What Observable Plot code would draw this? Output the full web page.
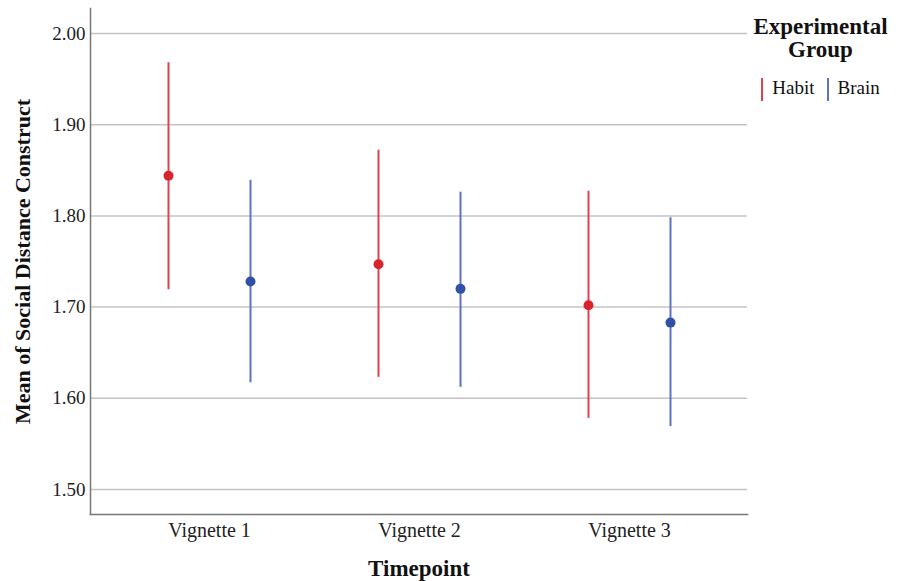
<!DOCTYPE html>
<html>
<head>
<meta charset="utf-8">
<script src="https://cdn.jsdelivr.net/npm/d3@7"></script>
<script src="https://cdn.jsdelivr.net/npm/@observablehq/plot@0.6"></script>
<style>
  body { margin: 0; background: #fff; }
  #wrap { position: relative; width: 901px; height: 581px; font-family: "Liberation Serif", "Times New Roman", serif; }
  #legend { position: absolute; left: 740px; top: 15px; width: 161px; text-align: center; color: #111; }
  #legend .title { font-weight: bold; font-size: 23px; line-height: 23px; }
  #legend .items { display: flex; justify-content: center; gap: 12px; margin-top: 16px; font-size: 19px; align-items: center; }
  #legend .sw { display: inline-block; width: 2px; height: 23px; margin-right: 9px; vertical-align: middle; }
</style>
</head>
<body>
<div id="wrap">
  <div id="chart"></div>
  <div id="legend">
    <div class="title">Experimental<br>Group</div>
    <div class="items">
      <span><span class="sw" style="background:#e0404f"></span>Habit</span>
      <span><span class="sw" style="background:#5a73c4"></span>Brain</span>
    </div>
  </div>
</div>
<script>
const timepoints = ["Vignette 1", "Vignette 2", "Vignette 3"];
const groups = ["Habit", "Brain"];
const habitMean = [1.844, 1.747, 1.702];
const habitLow  = [1.719, 1.623, 1.578];
const habitHigh = [1.968, 1.872, 1.827];
const brainMean = [1.728, 1.720, 1.683];
const brainLow  = [1.617, 1.612, 1.569];
const brainHigh = [1.839, 1.826, 1.798];
const yTicks = [1.5, 1.6, 1.7, 1.8, 1.9, 2.0];

const habit = timepoints.map((t, i) => ({t, group: "Habit", mean: habitMean[i], lo: habitLow[i], hi: habitHigh[i]}));
const brain = timepoints.map((t, i) => ({t, group: "Brain", mean: brainMean[i], lo: brainLow[i], hi: brainHigh[i]}));

const colors = {Habit: {line: "#e0404f", dot: "#d9242e"}, Brain: {line: "#5a73c4", dot: "#3151a8"}};
const off = 41;

function groupMarks(data, g, dx) {
  return [
    Plot.ruleX(data, {x: "t", y1: "lo", y2: "hi", stroke: colors[g].line, strokeWidth: 2, dx}),
    Plot.dot(data, {x: "t", y: "mean", r: 5, fill: colors[g].dot, stroke: "none", dx})
  ];
}

const chart = Plot.plot({
  width: 901,
  height: 581,
  marginLeft: 90,
  marginRight: 154,
  marginTop: 8,
  marginBottom: 67,
  style: {fontFamily: "'Liberation Serif', 'Times New Roman', serif", fontSize: "19px", color: "#222", background: "#fff"},
  x: {type: "point", domain: timepoints, padding: 0.557, label: null},
  y: {domain: [1.4726, 2.0274], label: null},
  marks: [
    Plot.gridY(yTicks, {stroke: "#c4c4c4", strokeOpacity: 1, strokeWidth: 1.5}),
    Plot.axisY(yTicks, {tickFormat: d3.format(".2f"), tickSize: 0, tickPadding: 5, fontSize: 19, label: null}),
    Plot.axisX(timepoints, {tickSize: 0, tickPadding: 8, fontSize: 20, label: null}),
    Plot.frame({anchor: "left", stroke: "#777", strokeWidth: 1.5}),
    Plot.frame({anchor: "bottom", stroke: "#777", strokeWidth: 1.5}),
    ...groupMarks(habit, "Habit", -off),
    ...groupMarks(brain, "Brain", off),
    Plot.text(["Timepoint"], {frameAnchor: "bottom", dy: 61, fontWeight: "bold", fontSize: 23, fill: "#111"}),
    Plot.text(["Mean of Social Distance Construct"], {frameAnchor: "left", textAnchor: "middle", dx: -68, rotate: -90, fontWeight: "bold", fontSize: 22, fill: "#111"})
  ]
});
document.getElementById("chart").appendChild(chart);
</script>
</body>
</html>
